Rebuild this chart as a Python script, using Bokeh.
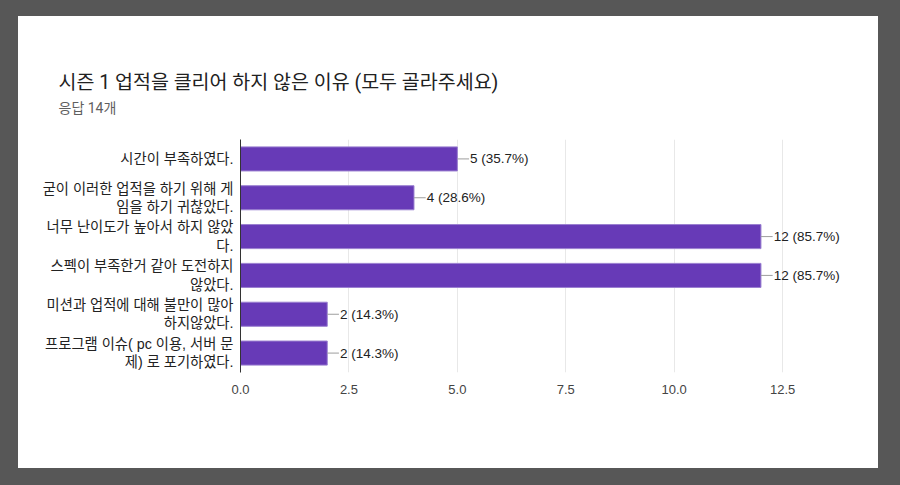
import re
from bokeh.plotting import figure
from bokeh.layouts import column
from bokeh.models import (ColumnDataSource, FactorRange, FixedTicker, Title,
                          LabelSet, Range1d, PrintfTickFormatter)
from bokeh.core.properties import value
from bokeh.embed import file_html
from bokeh.resources import INLINE

# ---- data ----
categories = [
    "시간이 부족하였다.",
    "굳이 이러한 업적을 하기 위해 게\n임을 하기 귀찮았다.",
    "너무 난이도가 높아서 하지 않았\n다.",
    "스펙이 부족한거 같아 도전하지\n않았다.",
    "미션과 업적에 대해 불만이 많아\n하지않았다.",
    "프로그램 이슈( pc 이용, 서버 문\n제) 로 포기하였다.",
]
counts = [5, 4, 12, 12, 2, 2]
percents = [35.7, 28.6, 85.7, 85.7, 14.3, 14.3]
x_ticks = [0, 2.5, 5, 7.5, 10, 12.5]
title_text = "시즌 1 업적을 클리어 하지 않은 이유 (모두 골라주세요)"
subtitle_text = "응답 14개"

FONT = "Roboto, Arial, 'Noto Sans CJK KR', sans-serif"
LFONT = "Arial, 'Liberation Sans', 'Noto Sans CJK KR', sans-serif"

labels = [f"{c} ({p}%)" for c, p in zip(counts, percents)]
src = ColumnDataSource(dict(cat=categories, cnt=counts, lab=labels,
                            lead=[c + 0.27 for c in counts]))

p = figure(width=860, height=452, output_backend="svg", toolbar_location=None,
           y_range=FactorRange(factors=list(reversed(categories))),
           x_range=Range1d(0, 14.48),
           min_border_left=222, min_border_right=10, min_border_top=123,
           min_border_bottom=96, border_fill_color="white",
           background_fill_color="white",
           margin=(16, 22, 17, 18), styles={"background-color": "white"})
p.outline_line_color = None

# titles: main title on top, subtitle below it
p.title.text = title_text
p.title.text_font = FONT
p.title.text_font_size = "19.5px"
p.title.text_font_style = "normal"
p.title.text_color = "#212121"
p.title.align = "left"
p.title.offset = -182
p.title.standoff = -40
sub = Title(text=subtitle_text, text_font=FONT, text_font_size="14px",
            text_font_style="normal", text_color="#5f5f5f", align="left",
            offset=-182, standoff=48)
p.add_layout(sub, "above")

p.hbar(y="cat", right="cnt", left=0, height=0.62, source=src,
       fill_color="#673ab7", line_color="#9a7fd0", line_width=1)
p.segment(x0="cnt", x1="lead", y0="cat", y1="cat", source=src,
          line_color="#9e9e9e", line_width=1)
ls = LabelSet(x="lead", y="cat", text="lab", source=src, x_offset=1,
              text_baseline="middle", text_align="left",
              text_font=value(LFONT), text_font_size="13.5px", text_color="#222222")
p.add_layout(ls)

# x axis
p.xaxis.ticker = FixedTicker(ticks=x_ticks)
p.xaxis.formatter = PrintfTickFormatter(format="%.1f")
p.xaxis.axis_line_color = None
p.xaxis.major_tick_line_color = None
p.xaxis.minor_tick_line_color = None
p.xaxis.major_label_text_font = LFONT
p.xaxis.major_label_text_font_size = "13px"
p.xaxis.major_label_text_color = "#444444"
p.xaxis.major_label_standoff = 6
p.xgrid.grid_line_color = "#e8e8e8"
p.ygrid.grid_line_color = None

# y axis
p.yaxis.axis_line_color = "#333333"
p.yaxis.axis_line_width = 1
p.yaxis.major_tick_line_color = None
p.yaxis.minor_tick_line_color = None
p.yaxis.major_label_text_font = LFONT
p.yaxis.major_label_text_font_size = "14.3px"
p.yaxis.major_label_text_color = "#222222"
p.yaxis.major_label_standoff = 1
p.yaxis.major_label_text_line_height = 1.15

root = column(p, width=900, height=485, styles={"background-color": "#575757"})

html = file_html(root, INLINE)
html = html.replace("</head>", "<style>html,body{margin:0;background:#575757;}</style></head>", 1)
open("out.html", "w").write(html)
